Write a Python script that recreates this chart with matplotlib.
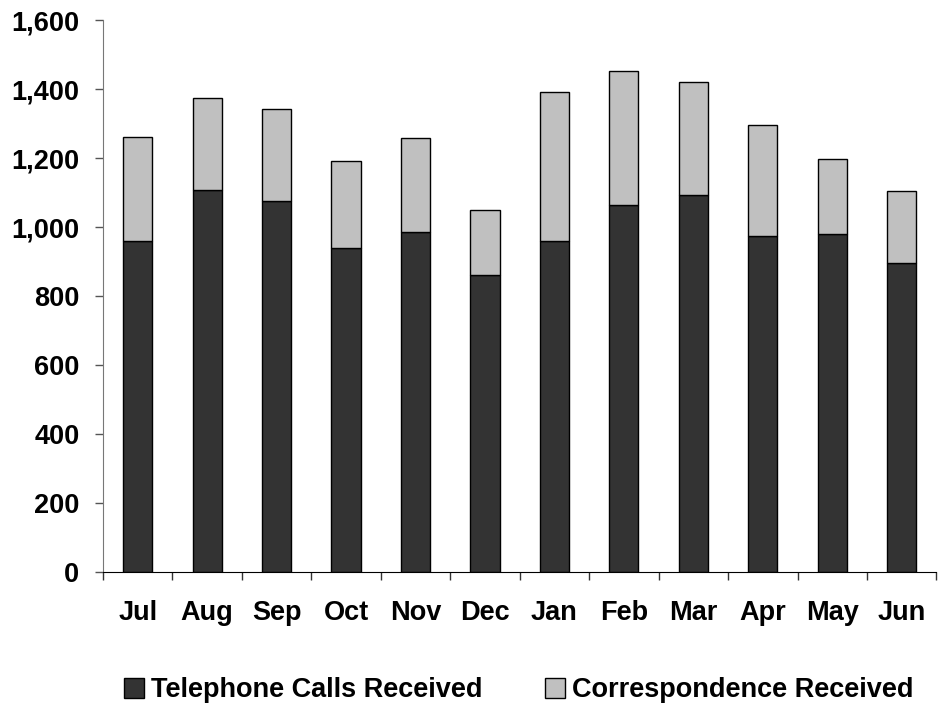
import numpy as np
import matplotlib.pyplot as plt
from matplotlib.ticker import FuncFormatter, FixedLocator

months = ["Jul", "Aug", "Sep", "Oct", "Nov", "Dec", "Jan", "Feb", "Mar", "Apr", "May", "Jun"]
telephone = [961, 1109, 1076, 939, 986, 862, 961, 1065, 1094, 974, 981, 896]
correspondence = [300, 267, 266, 254, 272, 189, 431, 387, 326, 323, 218, 210]

plt.rcParams['font.family'] = ['Liberation Sans', 'DejaVu Sans']
plt.rcParams['font.weight'] = 'bold'

fs = 19.5
fig = plt.figure(figsize=(9.38, 7.07), dpi=100)
ax = fig.add_axes([0.1098, 0.1905, 0.8885, 0.7808])

x = np.arange(len(months))
ax.bar(x, telephone, width=0.42, color="#333333", edgecolor="black", linewidth=1.0,
       label="Telephone Calls Received")
ax.bar(x, correspondence, width=0.42, bottom=telephone, color="#c0c0c0", edgecolor="black",
       linewidth=1.0, label="Correspondence Received")

ax.set_xlim(-0.5, 11.5)
ax.set_ylim(0, 1600)
ax.set_yticks(np.arange(0, 1601, 200))
ax.yaxis.set_major_formatter(FuncFormatter(lambda v, p: f"{int(v):,}"))
ax.set_xticks(x)
ax.set_xticklabels(months)
ax.xaxis.set_minor_locator(FixedLocator(np.arange(-0.5, 12, 1)))

ax.tick_params(axis="x", which="major", length=0, pad=20, labelsize=fs)
ax.tick_params(axis="x", which="minor", length=6, width=1, direction="out", color="#333333")
ax.tick_params(axis="y", length=6, width=1, direction="out", pad=11, labelsize=fs, color="#555555")
for lab in ax.get_xticklabels() + ax.get_yticklabels():
    lab.set_fontweight("bold")

for s in ["top", "right"]:
    ax.spines[s].set_visible(False)
ax.spines["left"].set_color("#777777")
ax.spines["bottom"].set_color("black")

fig.legend(loc="center", bbox_to_anchor=(0.553, 0.024), ncol=2, frameon=False,
           handlelength=0.75, handleheight=0.75, handletextpad=0.25, columnspacing=2.3,
           prop={"weight": "bold", "size": fs})

fig.savefig("out.png", dpi=100)
